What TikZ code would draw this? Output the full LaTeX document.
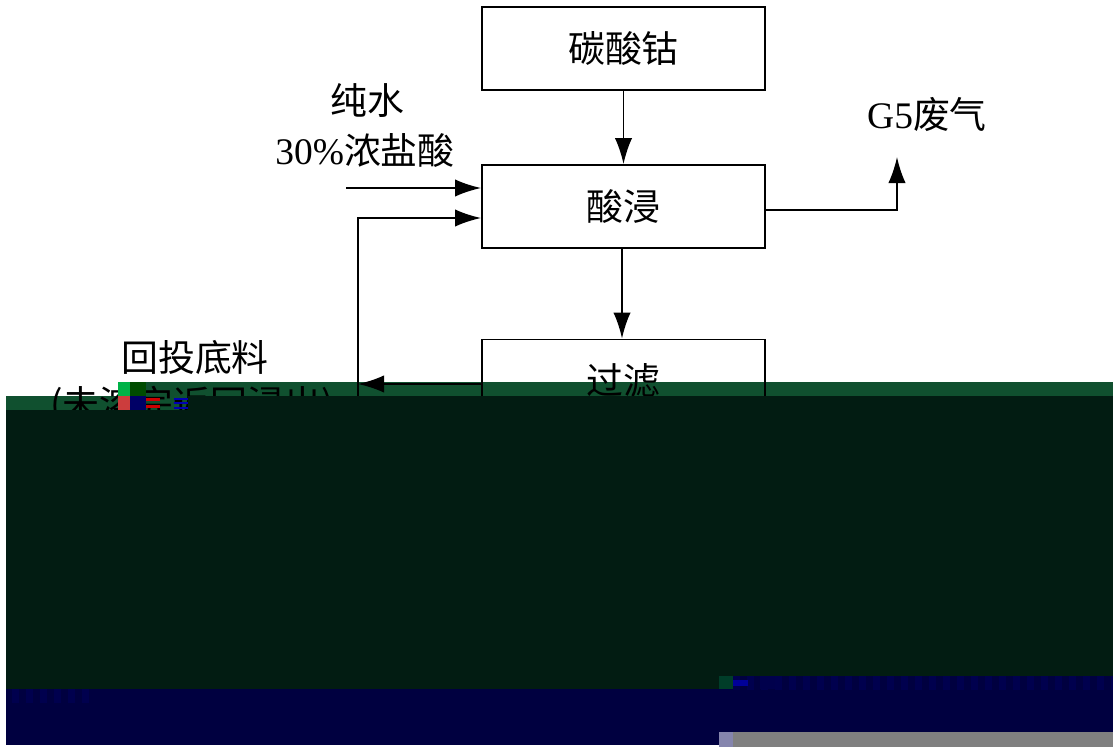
\documentclass[tikz,border=0pt]{standalone}
\usepackage{fontspec}
\setmainfont{Liberation Serif}
\newfontfamily\cjk{Noto Sans CJK SC}
\usetikzlibrary{arrows.meta}
\definecolor{bandgreen}{HTML}{10502F}
\definecolor{banddark}{HTML}{021C12}
\definecolor{bandnavy}{HTML}{000040}
\definecolor{stripenavy}{HTML}{00004E}
\definecolor{bandgrey}{HTML}{808080}
\tikzset{
  x=0.03cm,y=-0.03cm,
  procbox/.style={draw=black,line width=1.6pt,minimum width=8.49cm,minimum height=2.49cm,inner sep=0pt,font=\fontsize{31.5}{35}\selectfont\cjk},
  lbl/.style={inner sep=0pt,font=\fontsize{31.5}{35}\selectfont\cjk,align=center},
  conn/.style={draw=black,line width=1.6pt,-{Latex[length=0.78cm,width=0.52cm]}},
  plain/.style={draw=none,fill=#1}
}
\begin{document}
\begin{tikzpicture}
\useasboundingbox (0,0) rectangle (1113,747);
\fill[white] (0,0) rectangle (1113,747);
% band under the drawing
\path[plain=bandgreen] (118,382) rectangle (1113,396);
\path[plain=bandgreen] (6,396) rectangle (188,410);
% process boxes
\node[procbox] (tsg) at (623.5,48.5) {碳酸钴};
\node[procbox] (sj) at (623.5,206.5) {酸浸};
\node[procbox] (gl) at (623.5,381) {过滤};
% labels
\node[lbl] (cs) at (367,100) {纯水};
\node[lbl] (ys) at (365,150) {{\fontsize{32}{35}\selectfont\rmfamily 30\%}浓盐酸};
\node[lbl] (fq) at (927,115) {{\fontsize{32}{35}\selectfont\rmfamily G5}废气};
\node[lbl] (ht) at (195,357) {回投底料};
\node[lbl] (wr) at (192,405) {(未溶完返回浸出)};
% free ends
\coordinate (ws) at (346,188);
\coordinate (ret) at (358,384);
\coordinate (rb) at (358,218);
\coordinate (gt) at (897,157);
\coordinate (so) at (765,210);
\coordinate (mid) at (622,248);
% connectors
\draw[conn] (tsg.south) -- (sj.north);
\draw[conn] (mid) -- (mid |- gl.north);
\draw[conn] (ws) -- (ws -| sj.west);
\draw[conn] (rb -| ret) ++(0,190) -- (rb) -- (rb -| sj.west);
\draw[conn] (gl.west |- ret) -- (ret);
\draw[conn] (so) -- (gt |- so) -- (gt);
% band over the drawing
\path[plain=banddark] (188,396) rectangle (1113,410);
\path[plain=banddark] (6,410) rectangle (1113,690);
\path[plain=bandnavy] (719,676) rectangle (1113,690);
\path[plain=bandnavy] (6,689) rectangle (1113,745);
\path[plain=bandnavy] (719,745) rectangle (1113,747);
\foreach \k in {0,...,27}{\path[plain=stripenavy] (733+14*\k,676) rectangle (740+14*\k,690);}
\foreach \k in {0,...,5}{\path[plain=stripenavy] (12+14*\k,689) rectangle (19+14*\k,703);}
\path[plain=bandgrey] (733,732) rectangle (1113,747);
\path[plain={blue!20!gray!80!white}] (719,732) rectangle (733,747);
% damaged blocks
\path[plain={green!60!cyan!70!black}] (118,382) rectangle (130,396);
\path[plain={green!30!black}] (130,382) rectangle (146,396);
\path[plain={red!60!pink!80!black}] (118,396) rectangle (130,410);
\path[plain=blue!40!black] (130,396) rectangle (146,410);
\path[plain=red!80!black] (146,398) rectangle (160,401);
\path[plain=red!80!black] (146,405) rectangle (160,408);
\path[plain=blue!70!black] (174,398) rectangle (188,400);
\path[plain=blue!70!black] (174,402) rectangle (188,404);
\path[plain=blue!70!black] (174,407) rectangle (188,409);
\path[plain=blue!40!green!40!black] (719,676) rectangle (733,689);
\path[plain=blue!60!black] (733,680) rectangle (748,686);
\path[plain=blue!30!black] (760,676) rectangle (775,689);
\end{tikzpicture}
\end{document}
